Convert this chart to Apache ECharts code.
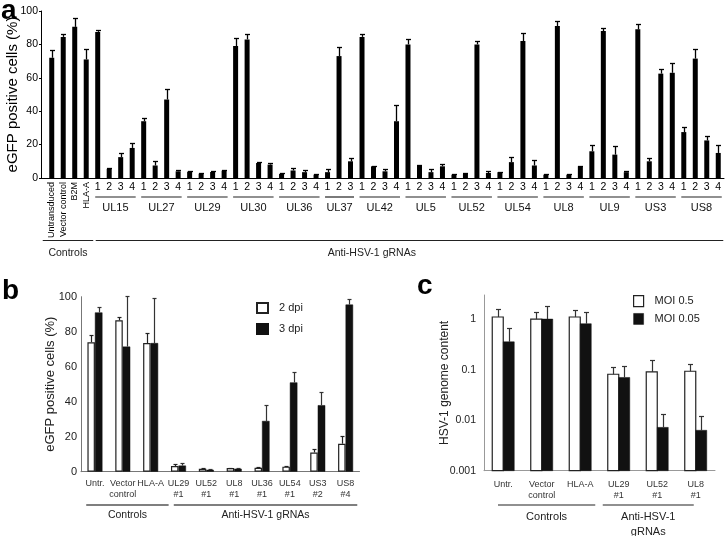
<!DOCTYPE html>
<html><head><meta charset="utf-8">
<script src="https://cdn.jsdelivr.net/npm/echarts@6/dist/echarts.min.js"></script>
<style>html,body{margin:0;padding:0;background:#fff}#c{width:727px;height:536px}</style>
</head><body><div id="c"></div>
<script>
// ---------- Panel a ----------
const aControls = ['Untransduced', 'Vector control', 'B2M', 'HLA-A'];
const aControlVals = [72, 84.5, 90.5, 71];
const aControlErr = [4.5, 2, 5.5, 6];
const aGroups = ['UL15','UL27','UL29','UL30','UL36','UL37','UL42','UL5','UL52','UL54','UL8','UL9','US3','US8'];
const aGuideVals = [
  [87.5, 5.5, 12.5, 18], [34, 7.5, 47, 4], [3.8, 2.6, 3.6, 4.4], [79, 83, 9, 8],
  [2.5, 4.5, 3.5, 2], [3.5, 73, 10], [84.5, 7, 4, 34], [80, 7.5, 3.5, 7],
  [2, 2.5, 80, 3], [3.5, 9.5, 82, 7.5], [2, 91, 2, 7], [16, 88, 14, 3.5],
  [89, 10, 62.5, 63], [27.5, 71.5, 22.5, 15]
];
const aGuideErr = [
  [1, 0.4, 2.5, 3], [2, 2.5, 6.5, 1], [0.3, 0.3, 0.3, 0.3], [5, 3, 0.4, 1],
  [0.3, 1.5, 1.5, 0.3], [2, 5.5, 2], [2, 0.4, 1.5, 10], [3.5, 0.3, 1.8, 1.5],
  [0.3, 0.3, 2, 1], [0.3, 3, 5, 3], [0.3, 3, 0.3, 0.3], [3.5, 2, 5, 0.5],
  [3, 2, 2.5, 6], [3, 6, 2.5, 4.5]
];
const aTicks = [0, 20, 40, 60, 80, 100];

// ---------- Panel b ----------
const bCats = ['Untr.', 'Vector\ncontrol', 'HLA-A', 'UL29\n#1', 'UL52\n#1', 'UL8\n#1', 'UL36\n#1', 'UL54\n#1', 'US3\n#2', 'US8\n#4'];
const b2dpi = [74, 86.5, 73.5, 3.2, 1.7, 2.1, 2.3, 2.9, 11, 16];
const b2dpiErr = [4, 2, 5.5, 1, 0.3, 0.3, 0.6, 0.6, 1.7, 4.6];
const b3dpi = [91, 71.5, 73.5, 3.5, 1.1, 1.7, 29, 51, 38, 95.5];
const b3dpiErr = [3, 29, 26, 1.7, 0.3, 0.6, 9, 6, 7.5, 3];

// ---------- Panel c ----------
const cCats = ['Untr.', 'Vector\ncontrol', 'HLA-A', 'UL29\n#1', 'UL52\n#1', 'UL8\n#1'];
const cMoi05 = [1.1, 1.0, 1.1, 0.081, 0.09, 0.093];
const cMoi05Err = [0.48, 0.4, 0.39, 0.033, 0.066, 0.035];
const cMoi005 = [0.355, 1.0, 0.81, 0.07, 0.0072, 0.0063];
const cMoi005Err = [0.3, 0.78, 0.55, 0.05, 0.006, 0.0058];
const cAxisMin = 0.001, cAxisMax = 3;

// ---------- build panel a categories ----------
const aKeys = [], aVals = [], aErr = [], aGroupIdx = [];
aControls.forEach((n, i) => { aKeys.push(n); aVals.push(aControlVals[i]); aErr.push(aControlErr[i]); });
aGroups.forEach((g, gi) => {
  const first = aKeys.length;
  aGuideVals[gi].forEach((v, j) => { aKeys.push(g + ' ' + (j + 1)); aVals.push(v); aErr.push(aGuideErr[gi][j]); });
  aGroupIdx.push([first, aKeys.length - 1]);
});

const FONT = 'Liberation Sans, Arial, Helvetica, sans-serif';

function errSeries(xi, yi, vals, errs, offset, cap, color, lw) {
  return {
    type: 'custom', xAxisIndex: xi, yAxisIndex: yi, silent: true, z: 5,
    data: vals.map((v, i) => [i, v, v + errs[i]]),
    encode: { x: 0, y: [1, 2] },
    renderItem: (params, api) => {
      const i = api.value(0);
      const p0 = api.coord([i, api.value(1)]);
      const p1 = api.coord([i, api.value(2)]);
      const x = Math.round(p0[0] + offset) + 0.5;
      const yt = Math.round(p1[1]) + 0.5;
      return { type: 'group', children: [
        { type: 'line', shape: { x1: x, y1: p0[1], x2: x, y2: yt }, style: { stroke: color, lineWidth: lw } },
        { type: 'line', shape: { x1: x - cap / 2, y1: yt, x2: x + cap / 2, y2: yt }, style: { stroke: color, lineWidth: lw } }
      ]};
    }
  };
}
// bars on the log axis, rising from the axis minimum
function logBarSeries(name, xi, yi, vals, offset, width, fill, stroke, lw) {
  return {
    type: 'custom', name, xAxisIndex: xi, yAxisIndex: yi, silent: true, z: 3,
    itemStyle: { color: fill, borderColor: stroke, borderWidth: lw },
    data: vals.map((v, i) => [i, v]),
    encode: { x: 0, y: 1 },
    renderItem: (params, api) => {
      const i = api.value(0);
      const top = api.coord([i, api.value(1)]);
      const base = api.coord([i, cAxisMin]);
      const x = top[0] + offset - width / 2;
      return { type: 'rect', shape: { x, y: top[1], width, height: base[1] - top[1] },
        style: { fill, stroke, lineWidth: lw } };
    }
  };
}

const chart = echarts.init(document.getElementById('c'), null, { renderer: 'canvas' });
const option = {
  animation: false,
  textStyle: { fontFamily: FONT },
  grid: [
    { left: 46, top: 11, width: 678, height: 167, outerBoundsMode: 'none', containLabel: false },
    { left: 81, top: 296.7, width: 278.5, height: 175, outerBoundsMode: 'none', containLabel: false },
    { left: 484, top: 295, width: 231, height: 175.7, outerBoundsMode: 'none', containLabel: false }
  ],
  legend: [
    { data: [{ name: '2 dpi', icon: 'rect' }, { name: '3 dpi', icon: 'rect' }], left: 256, top: 302, padding: 0,
      orient: 'vertical', itemWidth: 11, itemHeight: 10, itemGap: 9,
      textStyle: { fontSize: 11, color: '#222', padding: [0, 0, 0, 6] }, selectedMode: false },
    { data: [
        { name: 'MOI 0.5', icon: 'rect', itemStyle: { color: '#fff', borderColor: '#222', borderWidth: 1.2 } },
        { name: 'MOI 0.05', icon: 'rect', itemStyle: { color: '#111', borderColor: '#111', borderWidth: 0.5 } }
      ], left: 633, top: 295, padding: 0,
      orient: 'vertical', itemWidth: 10, itemHeight: 11, itemGap: 6,
      textStyle: { fontSize: 11, color: '#222', padding: [0, 0, 0, 6] }, selectedMode: false }
  ],
  xAxis: [
    { type: 'category', gridIndex: 0, data: aKeys,
      axisLine: { lineStyle: { color: '#000', width: 1 } }, axisTick: { show: false },
      axisLabel: { interval: 0, fontSize: 10.5, color: '#000', margin: 4,
        formatter: v => (aControls.indexOf(v) >= 0 ? '' : v.split(' ')[1]) } },
    { type: 'category', gridIndex: 0, data: aKeys, position: 'bottom',
      axisLine: { show: false }, axisTick: { show: false },
      axisLabel: { interval: 0, rotate: 90, fontSize: 9, color: '#000', margin: 4,
        formatter: v => (aControls.indexOf(v) >= 0 ? v : '') } },
    { type: 'category', gridIndex: 1, data: bCats,
      axisLine: { lineStyle: { color: '#777', width: 1 } }, axisTick: { show: false },
      axisLabel: { interval: 0, fontSize: 9, color: '#333', margin: 6, lineHeight: 11 } },
    { type: 'category', gridIndex: 2, data: cCats,
      axisLine: { lineStyle: { color: '#999', width: 1 } }, axisTick: { show: false },
      axisLabel: { interval: 0, fontSize: 9, color: '#333', margin: 8, lineHeight: 11 } }
  ],
  yAxis: [
    { type: 'value', gridIndex: 0, min: aTicks[0], max: aTicks[aTicks.length - 1], interval: 20, offset: 5,
      axisLine: { show: true, lineStyle: { color: '#000' } },
      axisTick: { show: true, length: 2, lineStyle: { color: '#000' } },
      axisLabel: { fontSize: 10.5, color: '#000', margin: 3 }, splitLine: { show: false },
      name: 'eGFP positive cells (%)', nameLocation: 'middle', nameGap: 21, nameMoveOverlap: false,
      nameTextStyle: { fontSize: 15, color: '#000' } },
    { type: 'value', gridIndex: 1, min: 0, max: 100, interval: 20,
      axisLine: { show: true, lineStyle: { color: '#777' } }, axisTick: { show: false },
      axisLabel: { fontSize: 11, color: '#222', margin: 4 }, splitLine: { show: false },
      name: 'eGFP positive cells (%)', nameLocation: 'middle', nameGap: 24, nameMoveOverlap: false,
      nameTextStyle: { fontSize: 13, color: '#222' } },
    { type: 'log', gridIndex: 2, min: cAxisMin, max: cAxisMax, logBase: 10,
      axisLine: { show: true, lineStyle: { color: '#999' } }, axisTick: { show: false },
      axisLabel: { fontSize: 10.5, color: '#222', margin: 8, showMaxLabel: false }, splitLine: { show: false },
      name: 'HSV-1 genome content', nameLocation: 'middle', nameGap: 33, nameMoveOverlap: false,
      nameTextStyle: { fontSize: 12, color: '#222' } }
  ],
  series: [
    { type: 'bar', name: 'a', xAxisIndex: 0, yAxisIndex: 0, data: aVals, barWidth: 5,
      itemStyle: { color: '#000' } },
    errSeries(0, 0, aVals, aErr, 0, 5, '#000', 1.3),
    { type: 'bar', name: '2 dpi', xAxisIndex: 2, yAxisIndex: 1, data: b2dpi, barWidth: 7.5, barGap: '0%',
      itemStyle: { color: '#fff', borderColor: '#222', borderWidth: 1.2 } },
    { type: 'bar', name: '3 dpi', xAxisIndex: 2, yAxisIndex: 1, data: b3dpi, barWidth: 7.5, barGap: '0%',
      itemStyle: { color: '#111', borderColor: '#111', borderWidth: 0.5 } },
    errSeries(2, 1, b2dpi, b2dpiErr, -3.75, 4, '#222', 1.2),
    errSeries(2, 1, b3dpi, b3dpiErr, 3.75, 4, '#333', 1.2),
    logBarSeries('MOI 0.5', 3, 2, cMoi05, -5.5, 11, '#fff', '#222', 1.2),
    logBarSeries('MOI 0.05', 3, 2, cMoi005, 5.5, 11, '#111', '#111', 0.5),
    errSeries(3, 2, cMoi05, cMoi05Err, -5.5, 5, '#333', 1.2),
    errSeries(3, 2, cMoi005, cMoi005Err, 5.5, 5, '#333', 1.2)
  ]
};
chart.setOption(option);

// ---------- annotations positioned from the axes ----------
const px = (xi, idx) => chart.convertToPixel({ xAxisIndex: xi }, idx);
const py = (yi, v) => chart.convertToPixel({ yAxisIndex: yi }, v);
const els = [];
function hline(x1, x2, y, color, w) {
  els.push({ type: 'line', shape: { x1, y1: y, x2, y2: y }, style: { stroke: color, lineWidth: w }, silent: true });
}
function text(t, x, y, size, color, weight, align) {
  els.push({ type: 'text', x, y, silent: true,
    style: { text: t, fontSize: size, fontFamily: FONT, fontWeight: weight || 'normal', fill: color,
      align: align || 'center', verticalAlign: 'middle', lineHeight: size + 4 } });
}
// panel a
const a0 = py(0, 0);
hline(41, px(0, 0) - 5.7, a0 + 0.5, '#000', 1);
aGroupIdx.forEach((r, gi) => {
  const x1 = px(0, r[0]) - 2.5, x2 = px(0, r[1]) + 3.5;
  hline(x1, x2, a0 + 19, '#222', 1.2);
  text(aGroups[gi], (x1 + x2) / 2, a0 + 29.5, 11, '#111');
});
const aC1 = px(0, 0) - 9, aC2 = px(0, aControls.length - 1) + 7;
hline(aC1, aC2, a0 + 62.5, '#222', 1.2);
text('Controls', (aC1 + aC2) / 2, a0 + 75.5, 10.5, '#222');
const aA1 = px(0, aControls.length) - 2, aA2 = px(0, aKeys.length - 1) + 5;
hline(aA1, aA2, a0 + 62.5, '#222', 1.2);
text('Anti-HSV-1 gRNAs', aA1 + 0.44 * (aA2 - aA1), a0 + 75.5, 10.5, '#222');
// panel b
const b0 = py(1, 0);
const bC1 = px(2, 0) - 8.7, bC2 = px(2, 2) + 18;
hline(bC1, bC2, b0 + 33.3, '#555', 1.4);
text('Controls', (bC1 + bC2) / 2, b0 + 43.5, 10.5, '#222');
const bA1 = px(2, 3) - 4.7, bA2 = px(2, bCats.length - 1) + 11.7;
hline(bA1, bA2, b0 + 33.3, '#555', 1.4);
text('Anti-HSV-1 gRNAs', (bA1 + bA2) / 2, b0 + 43.5, 10.5, '#222');
// panel c
const c0 = py(2, cAxisMin);
const cC1 = px(3, 0) - 5.3, cC2 = px(3, 2) + 15;
hline(cC1, cC2, c0 + 34.3, '#222', 1.2);
text('Controls', (cC1 + cC2) / 2, c0 + 46.5, 11, '#222');
const cA1 = px(3, 3) - 16, cA2 = px(3, cCats.length - 1) - 2;
hline(cA1, cA2, c0 + 34.3, '#222', 1.2);
text('Anti-HSV-1\ngRNAs', (cA1 + cA2) / 2, c0 + 54, 11, '#222');
// panel letters
text('a', 1, 11, 28, '#000', 'bold', 'left');
text('b', 2, 291, 28, '#000', 'bold', 'left');
text('c', 417, 286, 28, '#000', 'bold', 'left');
chart.setOption({ graphic: { elements: els } });
</script></body></html>
